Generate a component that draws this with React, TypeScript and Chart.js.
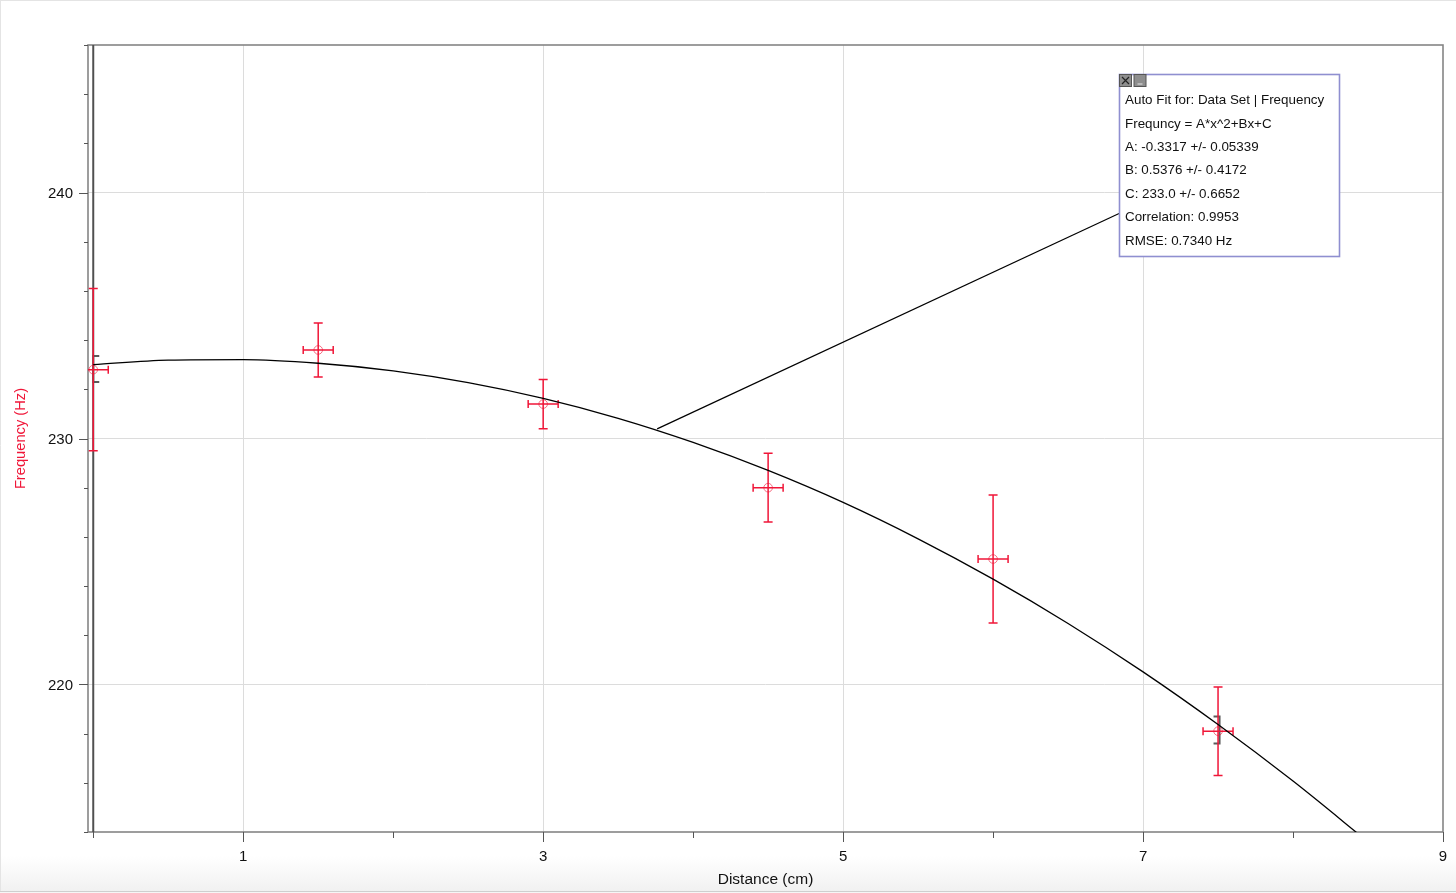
import { useEffect, useRef } from 'react';
import { Chart, registerables } from 'chart.js';

Chart.register(...registerables);

// ---- data ----
const DIST = [0, 1.5, 3, 4.5, 6, 7.5];
const FREQ = [232.8, 233.6, 231.4, 228.0, 225.1, 218.1];
const FREQ_ERR = [3.3, 1.1, 1.0, 1.4, 2.6, 1.8];
const DIST_ERR = [0.1, 0.1, 0.1, 0.1, 0.1, 0.1];

// fitted curve
const FIT_X = [0, 0.5, 1, 1.5, 2, 2.5, 3, 3.5, 4, 4.5, 5, 5.5, 6, 6.5, 7, 7.5, 8, 8.5];
const FIT_Y = [233.0, 233.19, 233.21, 233.06, 232.75, 232.27, 231.63, 230.82, 229.84, 228.7, 227.4, 225.92, 224.28, 222.48, 220.51, 218.37, 216.07, 213.6];

// leader line from the curve to the fit box
const LEADER_X = [3.76, 6.84];
const LEADER_Y = [230.39, 239.15];

// fit range brackets
const BRACKET_X = [0, 7.51];
const BRACKET_LO = [232.3, 217.6];
const BRACKET_HI = [233.35, 218.7];
const BRACKET_SIDE = [1, -1];

// axes
const X_TICKS = [0, 1, 2, 3, 4, 5, 6, 7, 8, 9];
const X_LABELED = [1, 3, 5, 7, 9];
const Y_TICKS = [214, 216, 218, 220, 222, 224, 226, 228, 230, 232, 234, 236, 238, 240, 242, 244, 246];
const Y_LABELED = [220, 230, 240];

const FIT_LINES = [
  'Auto Fit for: Data Set | Frequency',
  'Frequncy = A*x^2+Bx+C',
  'A: -0.3317 +/- 0.05339',
  'B: 0.5376 +/- 0.4172',
  'C: 233.0 +/- 0.6652',
  'Correlation: 0.9953',
  'RMSE: 0.7340 Hz',
];
const BOX_TOP_VALUE = 244.83;

// ---- styles ----
const RED = 'rgb(240, 22, 56)';
const FONT = '"Liberation Sans", Arial, Helvetica, sans-serif';

const framePlugin = {
  id: 'frame',
  beforeDraw(chart: any) {
    const { ctx, width, height } = chart;
    ctx.save();
    ctx.fillStyle = '#ffffff';
    ctx.fillRect(0, 0, width, height);
    const g = ctx.createLinearGradient(0, 856, 0, 891);
    g.addColorStop(0, '#ffffff');
    g.addColorStop(1, '#f1f1f1');
    ctx.fillStyle = g;
    ctx.fillRect(0, 856, width, 35);
    ctx.fillStyle = '#f6f6f6';
    ctx.fillRect(0, 891, width, height - 891);
    ctx.strokeStyle = '#cfcfcf';
    ctx.lineWidth = 1;
    ctx.beginPath();
    ctx.moveTo(0, 891.5);
    ctx.lineTo(width, 891.5);
    ctx.stroke();
    ctx.strokeStyle = '#e4e4e4';
    ctx.beginPath();
    ctx.moveTo(0, 0.5);
    ctx.lineTo(width, 0.5);
    ctx.moveTo(0.5, 0);
    ctx.lineTo(0.5, 891);
    ctx.stroke();
    ctx.restore();
  },
  beforeDatasetsDraw(chart: any) {
    const { ctx, chartArea: a, scales } = chart;
    const x = scales.x;
    const y = scales.y;
    ctx.save();
    // plot border
    ctx.strokeStyle = '#858585';
    ctx.lineWidth = 1.6;
    ctx.strokeRect(a.left, a.top, a.right - a.left, a.bottom - a.top);
    // zero line
    const x0 = x.getPixelForValue(0);
    ctx.strokeStyle = '#505050';
    ctx.lineWidth = 2;
    ctx.beginPath();
    ctx.moveTo(x0, a.top);
    ctx.lineTo(x0, a.bottom);
    ctx.stroke();
    // tick marks
    ctx.strokeStyle = '#555555';
    ctx.lineWidth = 1;
    ctx.beginPath();
    X_TICKS.forEach((v) => {
      const px = Math.round(x.getPixelForValue(v)) + 0.5;
      const len = X_LABELED.includes(v) ? 10 : 6;
      ctx.moveTo(px, a.bottom);
      ctx.lineTo(px, a.bottom + len);
    });
    Y_TICKS.forEach((v) => {
      const py = Math.round(y.getPixelForValue(v)) + 0.5;
      const len = Y_LABELED.includes(v) ? 9 : 4;
      ctx.moveTo(a.left, py);
      ctx.lineTo(a.left - len, py);
    });
    ctx.stroke();

    ctx.beginPath();
    ctx.rect(a.left, a.top, a.right - a.left, a.bottom - a.top);
    ctx.clip();

    // fit range brackets
    ctx.strokeStyle = '#5a5a5a';
    ctx.lineWidth = 2;
    BRACKET_X.forEach((bx, i) => {
      const px = x.getPixelForValue(bx);
      const t = y.getPixelForValue(BRACKET_HI[i]);
      const b = y.getPixelForValue(BRACKET_LO[i]);
      const s = BRACKET_SIDE[i] * 6;
      ctx.beginPath();
      ctx.moveTo(px + s, t);
      ctx.lineTo(px, t);
      ctx.lineTo(px, b);
      ctx.lineTo(px + s, b);
      ctx.stroke();
    });

    // error bars
    ctx.strokeStyle = RED;
    ctx.lineWidth = 1.5;
    DIST.forEach((d, i) => {
      const px = x.getPixelForValue(d);
      const py = y.getPixelForValue(FREQ[i]);
      const t = y.getPixelForValue(FREQ[i] + FREQ_ERR[i]);
      const b = y.getPixelForValue(FREQ[i] - FREQ_ERR[i]);
      const l = x.getPixelForValue(d - DIST_ERR[i]);
      const r = x.getPixelForValue(d + DIST_ERR[i]);
      ctx.beginPath();
      ctx.moveTo(px, t);
      ctx.lineTo(px, b);
      ctx.moveTo(px - 4.5, t);
      ctx.lineTo(px + 4.5, t);
      ctx.moveTo(px - 4.5, b);
      ctx.lineTo(px + 4.5, b);
      ctx.moveTo(l, py);
      ctx.lineTo(r, py);
      ctx.moveTo(l, py - 4);
      ctx.lineTo(l, py + 4);
      ctx.moveTo(r, py - 4);
      ctx.lineTo(r, py + 4);
      ctx.stroke();
    });
    ctx.restore();
  },
  afterDraw(chart: any) {
    const { ctx, scales } = chart;
    const left = Math.round(scales.x.getPixelForValue(LEADER_X[1])) + 0.5;
    const top = Math.round(scales.y.getPixelForValue(BOX_TOP_VALUE)) + 0.5;
    const w = 220;
    const h = 182;
    ctx.save();
    ctx.fillStyle = '#ffffff';
    ctx.fillRect(left, top, w, h);
    ctx.strokeStyle = '#8f8fd0';
    ctx.lineWidth = 1.6;
    ctx.strokeRect(left, top, w, h);
    // buttons
    const drawBtn = (bx: number) => {
      ctx.fillStyle = '#8e8e8e';
      ctx.fillRect(bx, top, 12, 12);
      ctx.strokeStyle = '#555555';
      ctx.lineWidth = 1;
      ctx.strokeRect(bx, top, 12, 12);
    };
    drawBtn(left);
    drawBtn(left + 14.5);
    ctx.strokeStyle = '#222222';
    ctx.lineWidth = 1.2;
    ctx.beginPath();
    ctx.moveTo(left + 2.5, top + 2.5);
    ctx.lineTo(left + 9.5, top + 9.5);
    ctx.moveTo(left + 9.5, top + 2.5);
    ctx.lineTo(left + 2.5, top + 9.5);
    ctx.stroke();
    ctx.strokeStyle = '#d8d8d8';
    ctx.beginPath();
    ctx.moveTo(left + 18, top + 9.5);
    ctx.lineTo(left + 23, top + 9.5);
    ctx.stroke();
    // text
    ctx.fillStyle = '#111111';
    ctx.font = `13.4px ${FONT}`;
    ctx.textBaseline = 'middle';
    ctx.textAlign = 'left';
    FIT_LINES.forEach((line, i) => {
      ctx.fillText(line, left + 5.5, top + 26 + i * 23.4);
    });
    ctx.restore();
  },
};

export default function App() {
  const ref = useRef<HTMLCanvasElement | null>(null);

  useEffect(() => {
    document.body.style.margin = '0';
    document.body.style.overflow = 'hidden';
    const canvas = ref.current;
    if (!canvas) return;
    const chart = new Chart(canvas, {
      type: 'scatter',
      data: {
        datasets: [
          {
            type: 'line',
            data: FIT_X.map((v, i) => ({ x: v, y: FIT_Y[i] })),
            borderColor: '#000000',
            borderWidth: 1.3,
            pointRadius: 0,
            showLine: true,
            fill: false,
            cubicInterpolationMode: 'monotone',
          } as any,
          {
            type: 'line',
            data: LEADER_X.map((v, i) => ({ x: v, y: LEADER_Y[i] })),
            borderColor: '#000000',
            borderWidth: 1.2,
            pointRadius: 0,
            showLine: true,
            fill: false,
          } as any,
          {
            type: 'scatter',
            data: DIST.map((v, i) => ({ x: v, y: FREQ[i] })),
            pointRadius: 4.3,
            pointBorderWidth: 1,
            pointBorderColor: 'rgba(240, 22, 56, 0.6)',
            pointBackgroundColor: 'rgba(0,0,0,0)',
            showLine: false,
          } as any,
        ],
      },
      options: {
        animation: false,
        responsive: true,
        maintainAspectRatio: false,
        layout: { padding: { top: 45, right: 13, bottom: 0, left: 0 } },
        plugins: { legend: { display: false }, tooltip: { enabled: false } },
        scales: {
          x: {
            type: 'linear',
            min: -0.035,
            max: 9,
            afterBuildTicks: (s: any) => {
              s.ticks = X_TICKS.map((v) => ({ value: v }));
            },
            afterFit: (s: any) => {
              s.height = 61;
              s.paddingLeft = 0;
              s.paddingRight = 0;
            },
            ticks: {
              autoSkip: false,
              maxRotation: 0,
              padding: 16,
              color: '#111111',
              font: { family: FONT, size: 15 },
              callback: (v: any) => (X_LABELED.includes(Number(v)) ? String(v) : ''),
            },
            grid: {
              drawTicks: false,
              lineWidth: 1,
              color: (c: any) =>
                c.tick && X_LABELED.includes(c.tick.value) && c.tick.value < 9 ? '#dcdcdc' : 'rgba(0,0,0,0)',
            },
            border: { display: false },
            title: {
              display: true,
              text: 'Distance (cm)',
              color: '#111111',
              font: { family: FONT, size: 15.5 },
              padding: { top: 0, bottom: 3.5 },
            },
          },
          y: {
            type: 'linear',
            min: 214,
            max: 246,
            afterBuildTicks: (s: any) => {
              s.ticks = Y_TICKS.map((v) => ({ value: v }));
            },
            afterFit: (s: any) => {
              s.width = 88;
              s.paddingTop = 0;
              s.paddingBottom = 0;
            },
            ticks: {
              autoSkip: false,
              padding: 15,
              labelOffset: 1.5,
              color: '#111111',
              font: { family: FONT, size: 15 },
              callback: (v: any) => (Y_LABELED.includes(Number(v)) ? String(v) : ''),
            },
            grid: {
              drawTicks: false,
              lineWidth: 1,
              color: (c: any) =>
                c.tick && Y_LABELED.includes(c.tick.value) ? '#dcdcdc' : 'rgba(0,0,0,0)',
            },
            border: { display: false },
            title: {
              display: true,
              text: 'Frequency (Hz)',
              color: RED,
              font: { family: FONT, size: 14.7 },
              padding: { top: 12, bottom: 0 },
            },
          },
        },
      } as any,
      plugins: [framePlugin],
    });
    return () => chart.destroy();
  }, []);

  return (
    <div style={{ position: 'relative', width: 1456, height: 893 }}>
      <canvas ref={ref} />
    </div>
  );
}
